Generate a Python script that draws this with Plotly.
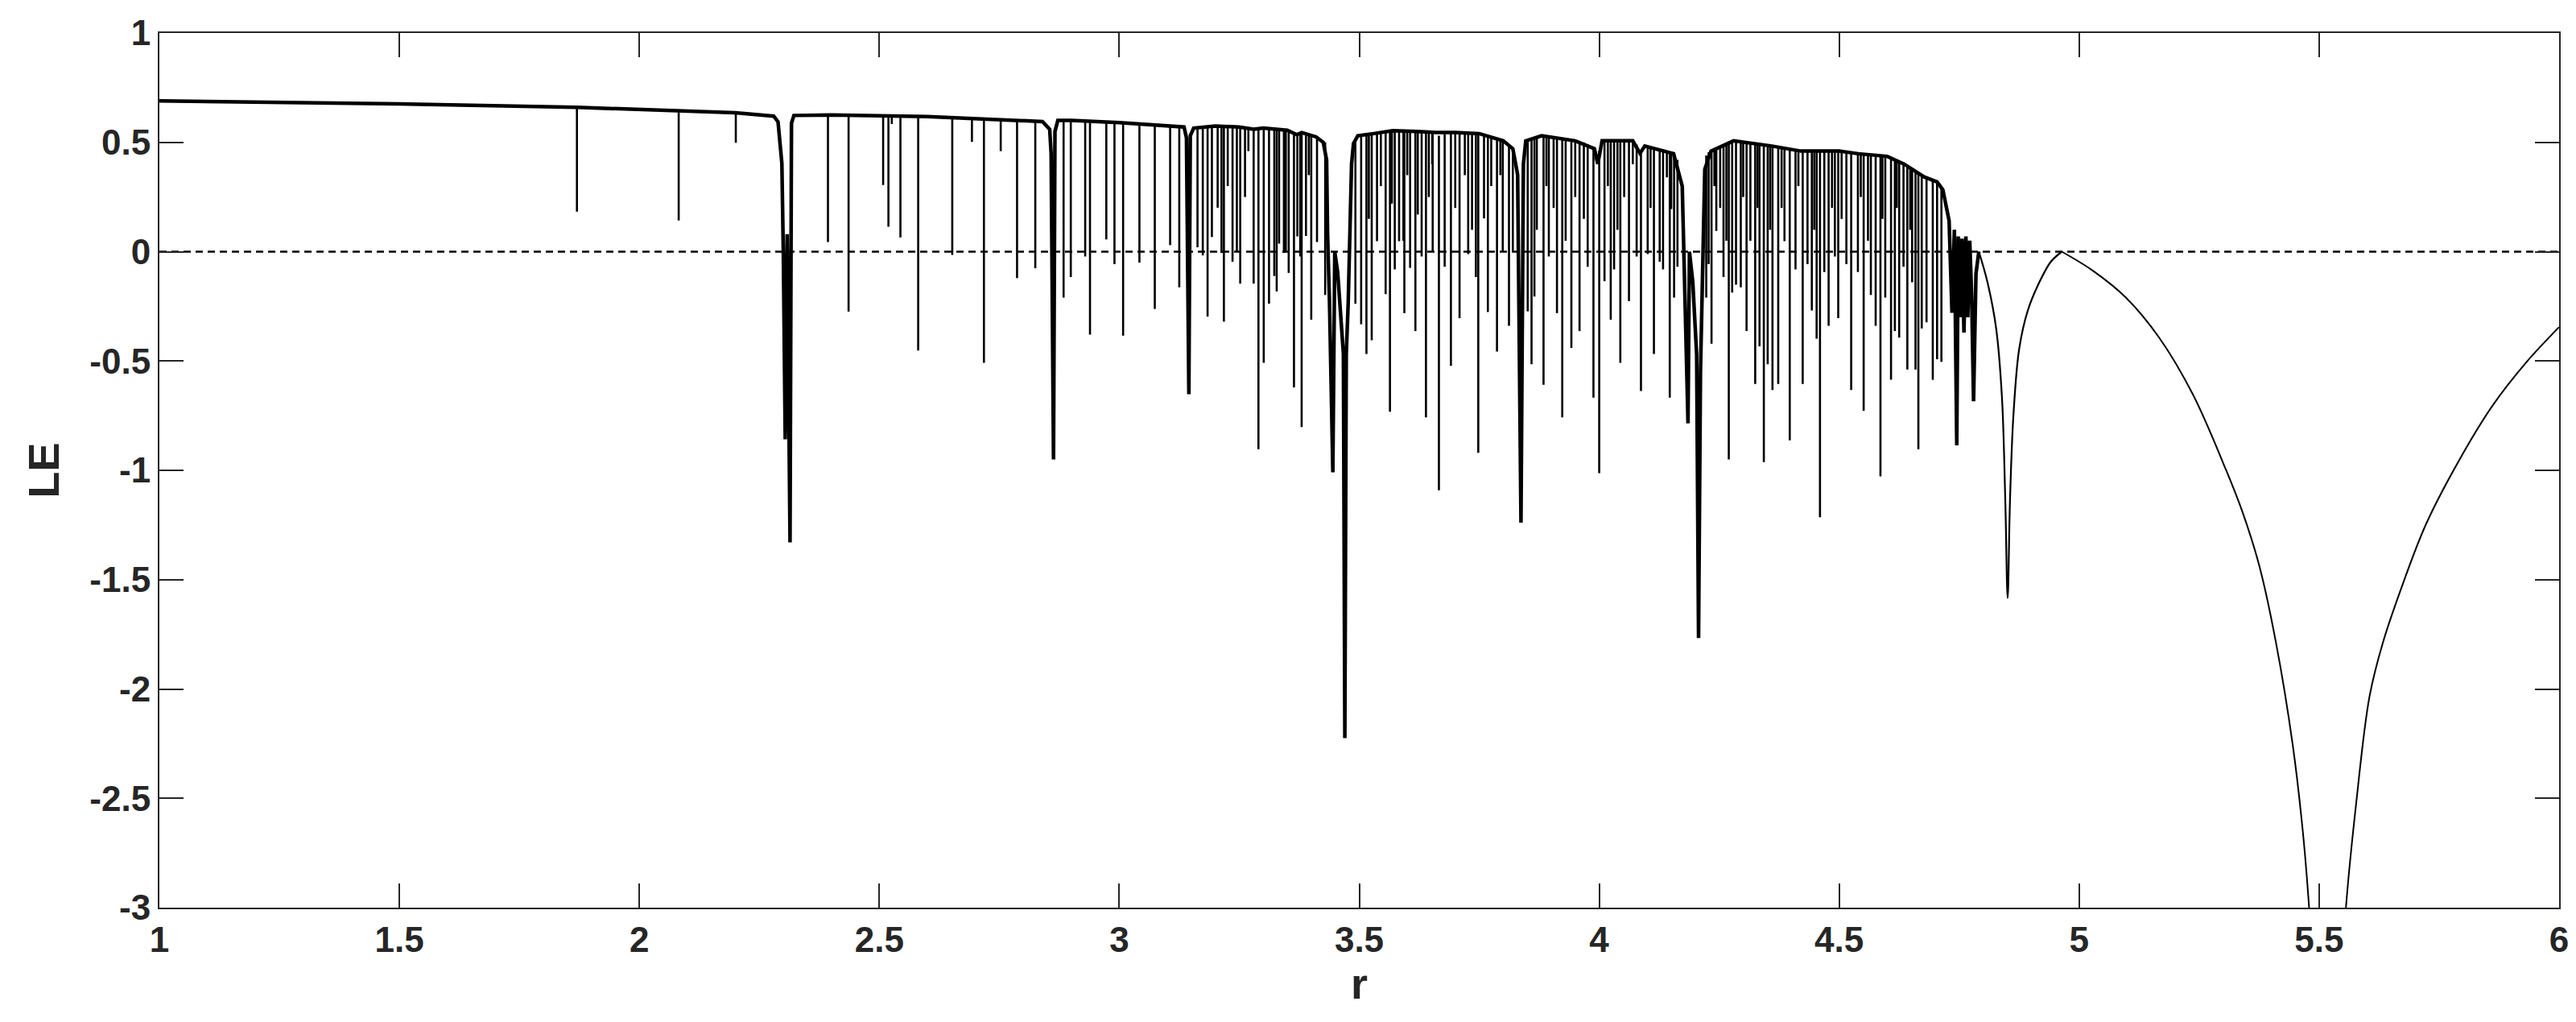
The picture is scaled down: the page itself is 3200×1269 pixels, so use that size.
import plotly.graph_objects as go

# main curve of LE(r): smooth parts and the wide periodic windows
curve_r = [1.00, 1.50, 1.87, 2.08, 2.20, 2.28, 2.289, 2.297, 2.300, 2.304, 2.308, 2.314, 2.317, 2.322,
           2.40, 2.60, 2.75, 2.84, 2.855, 2.858, 2.863, 2.866, 2.872, 2.90, 3.00, 3.10, 3.135, 3.140,
           3.145, 3.148, 3.155, 3.20, 3.25, 3.28, 3.30, 3.35, 3.37, 3.38, 3.41, 3.425, 3.432, 3.434,
           3.438, 3.445, 3.449, 3.455, 3.461, 3.467, 3.470, 3.473, 3.477, 3.481, 3.484, 3.488, 3.497,
           3.53, 3.57, 3.62, 3.66, 3.70, 3.75, 3.80, 3.820, 3.828, 3.830, 3.837, 3.842, 3.847, 3.88,
           3.95, 3.99, 3.997, 4.006, 4.07, 4.085, 4.095, 4.12, 4.155, 4.173, 4.176, 4.180, 4.185,
           4.188, 4.195, 4.203, 4.207, 4.211, 4.215, 4.220, 4.233, 4.28, 4.36, 4.42, 4.50, 4.54,
           4.60, 4.635, 4.677, 4.704, 4.716, 4.729, 4.735, 4.740, 4.745, 4.748, 4.752, 4.756, 4.760,
           4.764, 4.768, 4.772, 4.776, 4.780, 4.785, 4.791]
curve_le = [0.690, 0.676, 0.660, 0.645, 0.635, 0.620, 0.594, 0.404, -0.005, -0.858, 0.080, -1.330, 0.587, 0.623,
            0.625, 0.618, 0.605, 0.595, 0.560, 0.450, -0.950, 0.550, 0.600, 0.600, 0.590, 0.578, 0.570, 0.520,
            -0.652, 0.530, 0.565, 0.575, 0.570, 0.560, 0.565, 0.555, 0.535, 0.545, 0.525, 0.500, 0.420, 0.083,
            -0.230, -1.009, 0.000, -0.093, -0.257, -0.468, -2.225, -0.468, -0.234, 0.200, 0.401, 0.495, 0.530,
            0.540, 0.553, 0.550, 0.545, 0.545, 0.540, 0.507, 0.471, 0.377, 0.350, -1.239, 0.400, 0.507, 0.530,
            0.507, 0.471, 0.401, 0.507, 0.507, 0.450, 0.483, 0.470, 0.448, 0.300, 0.048, -0.257, -0.785,
            0.000, -0.140, -0.470, -1.767, -0.550, -0.140, 0.377, 0.460, 0.507, 0.483, 0.460, 0.460, 0.448,
            0.436, 0.401, 0.342, 0.319, 0.283, 0.142, -0.280, 0.100, -0.886, 0.070, -0.300, 0.060, -0.370,
            0.070, -0.300, 0.050, -0.200, -0.684, -0.100, 0.000]

# periodic regime after the chaotic band: two smooth arcs
arc_r = [4.791, 4.809, 4.827, 4.839, 4.846, 4.851, 4.856, 4.863, 4.875, 4.893, 4.917, 4.941, 4.964]
arc_le = [0.000, -0.140, -0.350, -0.660, -1.130, -1.584, -1.130, -0.750, -0.445, -0.269, -0.140, -0.046, 0.000]
tail_r = [4.964, 5.028, 5.097, 5.167, 5.237, 5.306, 5.341, 5.376, 5.410, 5.445, 5.466, 5.479, 5.490,
          5.517, 5.545, 5.556, 5.577, 5.605, 5.633, 5.675, 5.723, 5.793, 5.862, 5.932, 6.00]
tail_le = [0.000, -0.086, -0.209, -0.394, -0.653, -0.998, -1.195, -1.442, -1.787, -2.256, -2.651, -2.996, -3.400,
           -5.000, -3.400, -2.996, -2.527, -2.034, -1.787, -1.516, -1.245, -0.949, -0.702, -0.505, -0.345]

# narrow periodic windows: position, value at the top of the band, lowest value reached
spike_r = [1.870, 2.082, 2.201, 2.393, 2.436, 2.508, 2.519, 2.526, 2.544, 2.581, 2.652, 2.693, 2.718,
           2.753, 2.787, 2.825, 2.884, 2.899, 2.929, 2.939, 2.973, 2.990, 3.008, 3.042, 3.074, 3.106,
           3.125, 3.163, 3.174, 3.184, 3.193, 3.205, 3.213, 3.218, 3.236, 3.245, 3.252, 3.269, 3.280,
           3.290, 3.301, 3.312, 3.323, 3.328, 3.333, 3.343, 3.353, 3.364, 3.377, 3.380, 3.389, 3.400,
           3.412, 3.429, 3.492, 3.504, 3.515, 3.526, 3.537, 3.555, 3.564, 3.574, 3.583, 3.594, 3.606,
           3.617, 3.630, 3.639, 3.653, 3.666, 3.678, 3.691, 3.709, 3.727, 3.743, 3.748, 3.768, 3.787,
           3.799, 3.812, 3.820, 3.851, 3.859, 3.865, 3.884, 3.895, 3.912, 3.923, 3.942, 3.959, 3.976,
           3.988, 4.000, 4.011, 4.024, 4.031, 4.044, 4.062, 4.078, 4.087, 4.101, 4.114, 4.126, 4.133,
           4.147, 4.156, 4.163, 4.223, 4.228, 4.234, 4.244, 4.259, 4.270, 4.277, 4.285, 4.295, 4.307,
           4.325, 4.334, 4.343, 4.351, 4.361, 4.373, 4.386, 4.397, 4.409, 4.424, 4.434, 4.443, 4.453,
           4.460, 4.469, 4.478, 4.491, 4.498, 4.515, 4.525, 4.539, 4.551, 4.566, 4.576, 4.586, 4.596,
           4.608, 4.616, 4.625, 4.634, 4.642, 4.652, 4.659, 4.665, 4.672, 4.682, 4.695, 4.704, 4.713,
           3.226, 3.262, 3.347, 3.371, 3.395, 3.520, 3.545, 3.568, 3.592, 3.600, 3.622, 3.645, 3.652,
           3.700, 3.720, 3.735, 3.760, 3.775, 3.794, 3.870, 3.890, 3.905, 3.930, 3.950, 3.968, 4.018,
           4.038, 4.052, 4.070, 4.107, 4.141, 4.150, 4.240, 4.252, 4.265, 4.300, 4.315, 4.330, 4.356,
           4.380, 4.415, 4.448, 4.485, 4.505, 4.545, 4.560, 4.590, 4.620, 4.648]
spike_top = [0.660, 0.645, 0.635, 0.625, 0.624, 0.622, 0.622, 0.621, 0.620, 0.619, 0.615, 0.612, 0.610,
             0.606, 0.603, 0.598, 0.600, 0.600, 0.597, 0.596, 0.593, 0.591, 0.589, 0.585, 0.581, 0.577,
             0.574, 0.567, 0.569, 0.572, 0.574, 0.575, 0.575, 0.575, 0.572, 0.571, 0.570, 0.566, 0.562,
             0.562, 0.565, 0.562, 0.560, 0.559, 0.558, 0.556, 0.555, 0.545, 0.540, 0.542, 0.540, 0.532,
             0.525, 0.500, 0.515, 0.530, 0.535, 0.538, 0.540, 0.545, 0.548, 0.552, 0.553, 0.553, 0.552,
             0.550, 0.550, 0.548, 0.540, 0.530, 0.545, 0.545, 0.545, 0.542, 0.540, 0.540, 0.530, 0.520,
             0.507, 0.490, 0.471, 0.510, 0.515, 0.520, 0.530, 0.528, 0.522, 0.520, 0.510, 0.505, 0.490,
             0.470, 0.460, 0.507, 0.507, 0.507, 0.507, 0.505, 0.490, 0.450, 0.483, 0.475, 0.470, 0.468,
             0.455, 0.448, 0.420, 0.440, 0.455, 0.460, 0.470, 0.490, 0.500, 0.505, 0.507, 0.505, 0.500,
             0.495, 0.493, 0.490, 0.488, 0.483, 0.480, 0.478, 0.475, 0.470, 0.462, 0.460, 0.460, 0.460,
             0.460, 0.460, 0.460, 0.460, 0.460, 0.455, 0.452, 0.448, 0.445, 0.440, 0.438, 0.436, 0.436,
             0.430, 0.425, 0.415, 0.401, 0.390, 0.380, 0.370, 0.360, 0.350, 0.340, 0.330, 0.319, 0.290,
             0.574, 0.568, 0.556, 0.540, 0.535, 0.536, 0.542, 0.550, 0.553, 0.553, 0.550, 0.546, 0.546,
             0.545, 0.543, 0.541, 0.535, 0.525, 0.510, 0.522, 0.530, 0.525, 0.515, 0.507, 0.500, 0.507,
             0.507, 0.507, 0.500, 0.480, 0.460, 0.452, 0.465, 0.480, 0.495, 0.503, 0.498, 0.494, 0.486,
             0.479, 0.466, 0.460, 0.460, 0.458, 0.447, 0.442, 0.436, 0.420, 0.385]
spike_low = [0.183, 0.143, 0.498, 0.044, -0.274, 0.305, 0.114, 0.584, 0.065, -0.452, -0.015, 0.502, -0.508,
             0.460, -0.121, -0.076, -0.210, -0.116, -0.022, -0.379, 0.056, -0.057, -0.384, -0.050, -0.262, 0.030,
             -0.163, 0.020, -0.017, -0.297, 0.067, 0.201, -0.006, -0.320, -0.046, 0.000, -0.146, 0.460, -0.146,
             -0.903, -0.508, -0.238, -0.111, -0.182, 0.037, -0.006, -0.097, -0.621, -0.022, -0.802, 0.072, -0.311,
             0.044, -0.198, -0.238, -0.332, -0.468, -0.405, 0.048, -0.194, -0.732, -0.081, 0.048, -0.281, -0.074,
             -0.363, -0.022, -0.758, 0.000, -1.091, -0.069, -0.522, -0.304, -0.011, -0.116, -0.920, -0.276, -0.457,
             0.000, -0.339, 0.000, -0.273, -0.515, -0.205, -0.609, -0.022, -0.281, -0.758, -0.440, -0.363, -0.069,
             -0.668, -1.013, -0.135, -0.311, -0.081, -0.508, -0.226, -0.022, -0.637, -0.011, -0.468, -0.046, -0.081,
             -0.668, -0.210, -0.069, -0.210, -0.057, -0.421, 0.095, -0.116, -0.950, -0.187, -0.151, -0.163, -0.363,
             -0.605, -0.433, -0.962, -0.515, -0.633, -0.605, 0.048, -0.863, -0.081, -0.605, -0.057, -0.269, -0.398,
             -1.215, -0.093, -0.339, -0.022, -0.304, -0.057, -0.633, -0.093, -0.727, -0.198, -0.339, -1.028, -0.210,
             -0.586, -0.363, -0.393, -0.069, -0.539, -0.140, -0.539, -0.903, -0.351, -0.323, -0.586, -0.492, -0.504,
             0.300, 0.250, 0.000, 0.070, 0.350, 0.150, 0.300, 0.220, 0.050, 0.350, 0.170, 0.250, 0.400,
             0.200, 0.350, 0.100, 0.152, 0.300, 0.350, 0.100, 0.300, 0.200, 0.050, 0.250, 0.150, 0.300,
             0.100, 0.250, 0.400, 0.200, 0.340, 0.195, 0.300, 0.200, 0.050, 0.250, 0.050, 0.200, 0.100,
             0.200, 0.300, 0.100, 0.200, 0.150, 0.250, 0.050, 0.150, 0.200, 0.100]

zero_r = [1, 6]
zero_le = [0, 0]

x_ticks = [1, 1.5, 2, 2.5, 3, 3.5, 4, 4.5, 5, 5.5, 6]
x_tick_text = ["1", "1.5", "2", "2.5", "3", "3.5", "4", "4.5", "5", "5.5", "6"]
y_ticks = [-3, -2.5, -2, -1.5, -1, -0.5, 0, 0.5, 1]
y_tick_text = ["-3", "-2.5", "-2", "-1.5", "-1", "-0.5", "0", "0.5", "1"]

# vertical segments for the windows
seg_x, seg_y = [], []
for r, top, low in zip(spike_r, spike_top, spike_low):
    seg_x += [r, r, None]
    seg_y += [top, low, None]

fig = go.Figure()
fig.add_trace(go.Scatter(x=seg_x, y=seg_y, mode='lines',
                         line=dict(color='black', width=2.6), showlegend=False))
# chaotic band: drawn thick, the noisy top edge is several px wide in the original
fig.add_trace(go.Scatter(x=curve_r, y=curve_le, mode='lines',
                         line=dict(color='black', width=4.5), showlegend=False))
fig.add_trace(go.Scatter(x=arc_r, y=arc_le, mode='lines', line_shape='spline',
                         line=dict(color='black', width=2.2), showlegend=False))
fig.add_trace(go.Scatter(x=tail_r, y=tail_le, mode='lines', line_shape='spline',
                         line=dict(color='black', width=2), showlegend=False))
fig.add_trace(go.Scatter(x=zero_r, y=zero_le, mode='lines',
                         line=dict(color='black', width=2.5, dash='9px,6px'), showlegend=False))

axis_font = dict(family='Liberation Sans, Arial, sans-serif', size=44, color='#262626', weight='bold')
title_font = dict(family='Liberation Sans, Arial, sans-serif', size=54, color='#262626', weight='bold')

fig.update_layout(
    width=3200, height=1269,
    margin=dict(l=190, r=29, t=33, b=150),
    plot_bgcolor='white',
    paper_bgcolor='white',
    showlegend=False,
)
fig.update_xaxes(
    range=[1, 6], tickvals=x_ticks, ticktext=x_tick_text, automargin=False,
    showline=True, linecolor='#262626', linewidth=2, mirror='ticks',
    ticks='inside', ticklen=30, tickwidth=2, tickcolor='#262626',
    showgrid=False, zeroline=False, tickfont=axis_font,
    title=dict(text='r', font=title_font, standoff=10),
)
fig.update_yaxes(
    range=[-3, 1], tickvals=y_ticks, ticktext=y_tick_text, automargin=False,
    showline=True, linecolor='#262626', linewidth=2, mirror='ticks',
    ticks='inside', ticklen=30, tickwidth=2, tickcolor='#262626',
    showgrid=False, zeroline=False, tickfont=axis_font,
    title=dict(text='LE', font=title_font, standoff=20),
)

fig.write_html("out.html")
